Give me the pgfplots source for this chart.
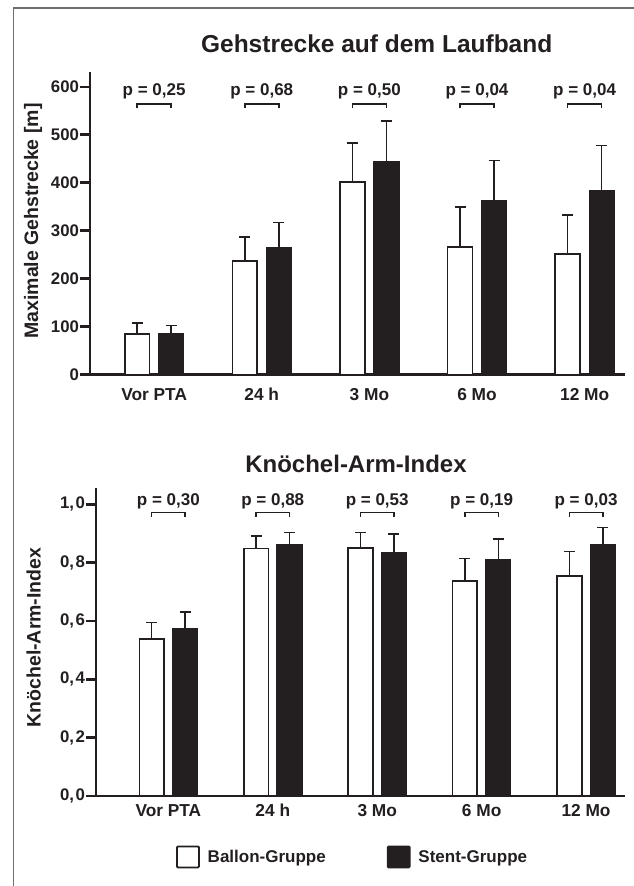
\documentclass[border=0pt]{standalone}
\usepackage{fontspec}
\setmainfont{Liberation Sans}
\usepackage{pgfplots}
\usepackage{pgfplotstable}
\pgfplotsset{compat=1.18}
\definecolor{ink}{RGB}{35,31,32}
\definecolor{framegray}{RGB}{110,110,110}

\pgfplotstableread{
x w we b be
0 83.5 23 85.5 16
1 236 50 264 53
2 401 82 444 84
3 266 83 362 84
4 251 81 382 95
}\toptab

\pgfplotstableread{
x w we b be
0 0.538 0.057 0.575 0.055
1 0.849 0.042 0.860 0.043
2 0.851 0.052 0.833 0.065
3 0.738 0.077 0.810 0.071
4 0.755 0.084 0.860 0.060
}\bottab

\newcommand{\xtickfont}{\fontsize{17.3}{20}\selectfont\bfseries}
\newcommand{\ytickfont}{\fontsize{16.8}{19}\selectfont\bfseries}
\newcommand{\pfont}{\fontsize{17}{20}\selectfont\bfseries}

\pgfplotsset{
  mystyle/.style={
    scale only axis, axis lines*=left,
    axis line style={line width=2.6pt, draw=ink},
    xtick={0,...,4}, xticklabels={Vor PTA,24 h,3 Mo,6 Mo,12 Mo},
    x tick style={draw=none},
    y tick style={line width=2.4pt, draw=ink},
    major tick length=10pt, tick align=outside,
    xticklabel style={font=\xtickfont, text=ink, text height=12.4pt, text depth=0pt},
    yticklabel style={font=\ytickfont, text=ink, xshift=2.5pt},
    /pgf/number format/assume math mode=true,
    ylabel style={font=\fontsize{19.5}{22}\selectfont\bfseries, text=ink},
    clip=false, ymin=0,
  },
  errs/.style={error bars/.cd, y dir=plus, y explicit,
    error bar style={line width=1.6pt, draw=ink},
    error mark options={rotate=90, mark size=5.5pt, line width=1.6pt, draw=ink}},
  whitebar/.style={ybar, bar width=24.7pt, bar shift=0pt, fill=white, draw=ink, line width=1.6pt,
    legend image code/.code={\draw[fill=white, draw=ink, line width=1.8pt, rounded corners=1pt] (0pt,-10.5pt) rectangle (22pt,10.5pt); \path (28pt,0pt);},
    errs},
  blackbar/.style={ybar, bar width=24.7pt, bar shift=0pt, fill=ink, draw=ink, line width=1.6pt,
    legend image code/.code={\draw[fill=ink, draw=ink, line width=1.8pt, rounded corners=1pt] (0pt,-10.5pt) rectangle (22pt,10.5pt); \path (28pt,0pt);},
    errs},
}

\begin{document}
\begin{tikzpicture}
\useasboundingbox (0pt,0pt) rectangle (634pt,-886pt);
\draw[framegray, line width=1.8pt] (13.5pt,-890pt) -- (13.5pt,-8.3pt) -- (640pt,-8.3pt);

% ---------- top panel ----------
\begin{axis}[mystyle,
  at={(90pt,-374.3pt)}, anchor=south west,
  width=535pt, height=302.3pt,
  xmin=-0.596, xmax=4.375, ymax=630.7,
  ytick={0,100,...,600},
  ylabel={Maximale Gehstrecke [m]},
  ylabel style={at={(axis description cs:-0.1065,0.507)}, anchor=center},
  xticklabel style={yshift=0pt},
]
\addplot[whitebar] table[x expr=\thisrow{x}-0.158, y=w, y error=we] {\toptab};
\addplot[blackbar] table[x expr=\thisrow{x}+0.158, y=b, y error=be] {\toptab};
\foreach \i/\p in {0/{0,25},1/{0,68},2/{0,50},3/{0,04},4/{0,04}}{
  \edef\tmp{\noexpand\draw[ink, line width=1.6pt] (axis cs:\i-0.158,555) -- (axis cs:\i-0.158,564) -- (axis cs:\i+0.158,564) -- (axis cs:\i+0.158,555);
  \noexpand\node[font=\noexpand\pfont, text=ink, anchor=base] at (axis cs:\i,582.7) {p = \p};}
  \tmp
}
\end{axis}

% ---------- bottom panel ----------
\begin{axis}[mystyle,
  at={(96pt,-796pt)}, anchor=south west,
  width=529pt, height=307.7pt,
  xmin=-0.693, xmax=4.373, ymax=1.055,
  ytick={0,0.2,0.4,0.6,0.8,1.0},
  yticklabels={{0,\kern1.5pt0},{0,\kern1.5pt2},{0,\kern1.5pt4},{0,\kern1.5pt6},{0,\kern1.5pt8},{1,\kern1.5pt0}},
  ylabel={Knöchel-Arm-Index},
  ylabel style={at={(axis description cs:-0.118,0.515)}, anchor=center},
  xticklabel style={yshift=5pt},
  legend style={at={(axis description cs:0.485,-0.198)}, anchor=center, draw=none, fill=none,
    legend columns=2, font=\pfont, text=ink,
    /tikz/every even column/.append style={column sep=59pt}},
]
\addplot[whitebar] table[x expr=\thisrow{x}-0.16, y=w, y error=we] {\bottab};
\addlegendentry{Ballon-Gruppe}
\addplot[blackbar] table[x expr=\thisrow{x}+0.16, y=b, y error=be] {\bottab};
\addlegendentry{Stent-Gruppe}
\foreach \i/\p in {0/{0,30},1/{0,88},2/{0,53},3/{0,19},4/{0,03}}{
  \edef\tmp{\noexpand\draw[ink, line width=1.6pt] (axis cs:\i-0.16,0.957) -- (axis cs:\i-0.16,0.9726) -- (axis cs:\i+0.16,0.9726) -- (axis cs:\i+0.16,0.957);
  \noexpand\node[font=\noexpand\pfont, text=ink, anchor=base] at (axis cs:\i,0.9976) {p = \p};}
  \tmp
}
\end{axis}

\node[font=\fontsize{24.5}{28}\selectfont\bfseries, text=ink, anchor=base] at (376.7pt,-52.3pt) {Gehstrecke auf dem Laufband};
\node[font=\fontsize{24}{28}\selectfont\bfseries, text=ink, anchor=base] at (356pt,-472pt) {Knöchel-Arm-Index};
\end{tikzpicture}
\end{document}
